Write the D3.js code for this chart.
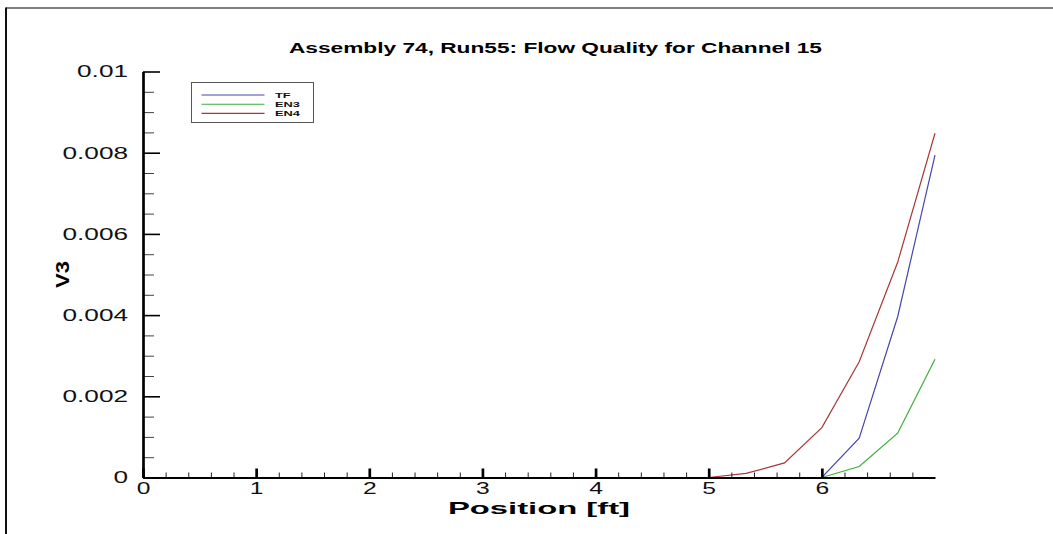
<!DOCTYPE html>
<html>
<head>
<meta charset="utf-8">
<script src="https://cdn.jsdelivr.net/npm/d3@7"></script>
<style>
    body { margin: 0; background: #fff; }
    svg { display: block; font-family: "Liberation Sans", Arial, sans-serif; }
</style>
</head>
<body>
<svg id="chart" width="1053" height="534"></svg>
<script>
// data
let positions = [0, 5.0, 5.33, 5.67, 6.0, 6.33, 6.67, 7.0];
let seriesNames = ["TF", "EN3", "EN4"];
let tfValues = [0, 0, 0, 0, 0, 0.00097, 0.00396, 0.00794];
let en3Values = [0, 0, 0, 0, 0, 0.00027, 0.00109, 0.00291];
let en4Values = [0, 0, 0.0001, 0.00036, 0.00123, 0.00285, 0.0053, 0.00848];
let seriesColors = ["#4646ae", "#3aae3a", "#aa3636"];
let xTickValues = [0, 1, 2, 3, 4, 5, 6];
let xTickLabels = ["0", "1", "2", "3", "4", "5", "6"];
let yTickValues = [0, 0.002, 0.004, 0.006, 0.008, 0.01];
let yTickLabels = ["0", "0.002", "0.004", "0.006", "0.008", "0.01"];

let series = [tfValues, en3Values, en4Values].map(function (vals, i) {
    return {name: seriesNames[i], color: seriesColors[i], points: vals.map(function (v, j) { return [positions[j], v]; })};
});

let svg = d3.select('#chart');
let stretch = 1.54;

let x = d3.scaleLinear().domain([0, 7]).range([143, 935]);
let y = d3.scaleLinear().domain([0, 0.01]).range([477.5, 71.5]);

// frame
svg.append('line').attr('x1', 6).attr('x2', 1053).attr('y1', 8).attr('y2', 8)
    .attr('stroke', '#555').attr('stroke-width', 1.5);
svg.append('line').attr('x1', 6).attr('x2', 6).attr('y1', 7.5).attr('y2', 534)
    .attr('stroke', '#111').attr('stroke-width', 2);

// title
svg.append('text').attr('x', 289).attr('y', 53)
    .attr('font-size', 14).attr('font-weight', 'bold')
    .attr('textLength', 533).attr('lengthAdjust', 'spacingAndGlyphs')
    .text('Assembly 74, Run55: Flow Quality for Channel 15');

// lines go under the axes
let line = d3.line().x(function (d) { return x(d[0]); }).y(function (d) { return y(d[1]); });
svg.selectAll('.series').data(series).enter().append('path')
    .attr('class', 'series')
    .attr('d', function (d) { return line(d.points); })
    .attr('fill', 'none')
    .attr('stroke', function (d) { return d.color; })
    .attr('stroke-width', 1.2);

// minor ticks
let xMinor = d3.range(0, 35).map(function (i) { return i * 0.2; }).filter(function (v) { return Math.abs(v - Math.round(v)) > 0.01; });
let yMinor = d3.range(0, 20).map(function (i) { return i * 0.0005; }).filter(function (v) { return Math.abs(v / 0.002 - Math.round(v / 0.002)) > 0.01; });

let xMinorAxis = svg.append('g').attr('transform', 'translate(0,' + y(0) + ')')
    .call(d3.axisBottom(x).tickValues(xMinor).tickSizeInner(-5).tickSizeOuter(0).tickFormat(''));
xMinorAxis.select('.domain').remove();
xMinorAxis.selectAll('line').attr('stroke', '#222').attr('stroke-width', 1);

let yMinorAxis = svg.append('g').attr('transform', 'translate(' + x(0) + ',0)')
    .call(d3.axisLeft(y).tickValues(yMinor).tickSizeInner(-11).tickSizeOuter(0).tickFormat(''));
yMinorAxis.select('.domain').remove();
yMinorAxis.selectAll('line').attr('stroke', '#444').attr('stroke-width', 1);

// major axes
let xAxis = d3.axisBottom(x).tickValues(xTickValues).tickSizeInner(-9).tickSizeOuter(0).tickPadding(5)
    .tickFormat(function (d, i) { return xTickLabels[i]; });
let yAxis = d3.axisLeft(y).tickValues(yTickValues).tickSizeInner(-17).tickSizeOuter(0).tickPadding(15)
    .tickFormat(function (d, i) { return yTickLabels[i]; });

let gx = svg.append('g').attr('class', 'x axis').attr('transform', 'translate(0,' + y(0) + ')').call(xAxis);
gx.select('.domain').attr('stroke', '#000').attr('stroke-width', 2);
gx.selectAll('.tick line').attr('stroke', '#000').attr('stroke-width', 2.7);
gx.selectAll('.tick text')
    .attr('font-size', 16).attr('fill', '#111')
    .attr('transform', 'scale(' + stretch + ',1)');

let gy = svg.append('g').attr('class', 'y axis').attr('transform', 'translate(' + x(0) + ',0)').call(yAxis);
gy.select('.domain').attr('stroke', '#000').attr('stroke-width', 2.7);
gy.selectAll('.tick line').attr('stroke', '#000').attr('stroke-width', 1.6);
gy.selectAll('.tick text')
    .attr('font-size', 17).attr('fill', '#111')
    .attr('x', 0)
    .attr('transform', 'translate(-15,0) scale(' + stretch + ',1)');

// axis titles
svg.append('text').attr('x', 448).attr('y', 514)
    .attr('font-size', 17).attr('font-weight', 'bold')
    .attr('textLength', 182).attr('lengthAdjust', 'spacingAndGlyphs')
    .text('Position [ft]');

svg.append('text')
    .attr('transform', 'translate(69,288) rotate(-90)')
    .attr('font-size', 18).attr('font-weight', 'bold')
    .attr('textLength', 27).attr('lengthAdjust', 'spacingAndGlyphs')
    .text('V3');

// legend
let legend = svg.append('g').attr('transform', 'translate(191.5,82.5)');
legend.append('rect').attr('width', 122).attr('height', 40)
    .attr('fill', '#fff').attr('stroke', '#555').attr('stroke-width', 1);
let legendItems = legend.selectAll('.item').data(series).enter().append('g')
    .attr('class', 'item')
    .attr('transform', function (d, i) { return 'translate(0,' + (12.5 + i * 9.2) + ')'; });
legendItems.append('line').attr('x1', 10).attr('x2', 73)
    .attr('stroke', function (d) { return d.color; }).attr('stroke-width', 1.1);
legendItems.append('text')
    .attr('transform', 'translate(83.5,3) scale(1.6,1)')
    .attr('font-size', 8).attr('font-weight', 'bold').attr('fill', '#111')
    .text(function (d) { return d.name; });
</script>
</body>
</html>
